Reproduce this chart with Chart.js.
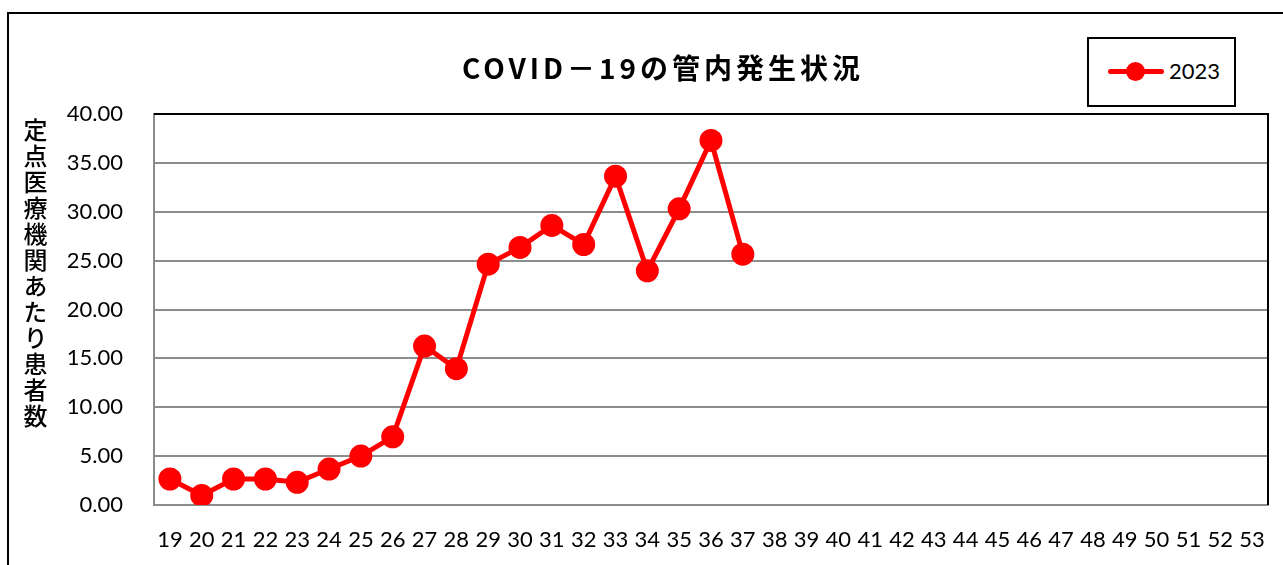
<!DOCTYPE html>
<html>
<head>
<meta charset="utf-8">
<script src="https://cdn.jsdelivr.net/npm/chart.js@4"></script>
<style>
  body { margin: 0; background: #fff; width: 1283px; height: 565px; overflow: hidden; position: relative; }
  #frame { position: absolute; left: 7px; top: 12px; width: 1300px; height: 600px; border: 2px solid #000; }
  #wrap { position: absolute; left: 0; top: 0; width: 1283px; height: 565px; }
  #title { position: absolute; left: 462px; top: 47px; font: bold 28px "Noto Sans CJK JP"; letter-spacing: 4px; white-space: nowrap; color: #000; }
  #ytitle { position: absolute; left: 22px; top: 118px; writing-mode: vertical-rl; text-orientation: upright; font: 500 24px "Noto Sans CJK JP"; line-height: 26px; letter-spacing: 2px; color: #000; }
  #legend { position: absolute; left: 1087px; top: 37px; width: 145px; height: 66px; border: 2px solid #000; background: #fff; }
  #legend .ln { position: absolute; left: 19px; top: 30px; width: 56px; height: 5px; background: #f00; border-radius: 3px; }
  #legend .dot { position: absolute; left: 37px; top: 23px; width: 19px; height: 19px; background: #f00; border-radius: 50%; }
  #legend .tx { position: absolute; left: 80px; top: 18px; font: 22px Lato; color: #000; }
</style>
</head>
<body>
<div id="frame"></div>
<div id="wrap"><canvas id="chart" width="1283" height="565"></canvas></div>
<div id="title">COVID－19の管内発生状況</div>
<div id="ytitle">定点医療機関あたり患者数</div>
<div id="legend"><div class="ln"></div><div class="dot"></div><div class="tx">2023</div></div>
<script>
// 週番号 19〜53
const weeks = ["19","20","21","22","23","24","25","26","27","28","29","30","31","32","33","34","35","36",
  "37","38","39","40","41","42","43","44","45","46","47","48","49","50","51","52","53"];
const seriesName = "2023";
const teiten = [2.66, 0.98, 2.66, 2.66, 2.32, 3.68, 5.01, 6.98, 16.26, 13.94, 24.64, 26.35, 28.6, 26.65,
  33.64, 23.96, 30.3, 37.29, 25.66];
const yTicks = [0, 5, 10, 15, 20, 25, 30, 35, 40];

// 上と右の枠線
const frameLines = {
  id: "frameLines",
  afterDraw(chart) {
    const { ctx, chartArea: a } = chart;
    ctx.save();
    ctx.strokeStyle = "#000";
    ctx.lineWidth = 2;
    ctx.beginPath();
    ctx.moveTo(a.left, a.top);
    ctx.lineTo(a.right, a.top);
    ctx.lineTo(a.right, a.bottom);
    ctx.stroke();
    ctx.restore();
  }
};

new Chart(document.getElementById("chart"), {
  type: "line",
  data: {
    labels: weeks,
    datasets: [{
      label: seriesName,
      data: teiten,
      borderColor: "#ff0000",
      backgroundColor: "#ff0000",
      borderWidth: 5,
      pointRadius: 9,
      pointHoverRadius: 9,
      tension: 0
    }]
  },
  options: {
    responsive: false,
    animation: false,
    layout: { padding: { left: 0, top: 114, right: 15, bottom: 0 } },
    plugins: { legend: { display: false }, title: { display: false }, tooltip: { enabled: false } },
    scales: {
      x: {
        offset: true,
        grid: { display: false, offset: true },
        border: { color: "#8c8c8c", width: 2 },
        ticks: { color: "#000", font: { family: "Lato", size: 22 }, autoSkip: false, maxRotation: 0, padding: 14 },
        afterFit: s => { s.height = 60; }
      },
      y: {
        min: 0, max: 40,
        afterBuildTicks: s => { s.ticks = yTicks.map(v => ({ value: v })); },
        grid: { color: "#8c8c8c", lineWidth: 2, drawTicks: false },
        border: { color: "#8c8c8c", width: 2 },
        ticks: { color: "#000", font: { family: "Lato", size: 22 }, padding: 31, callback: v => v.toFixed(2) },
        afterFit: s => { s.width = 154; }
      }
    }
  },
  plugins: [frameLines]
});
</script>
</body>
</html>
